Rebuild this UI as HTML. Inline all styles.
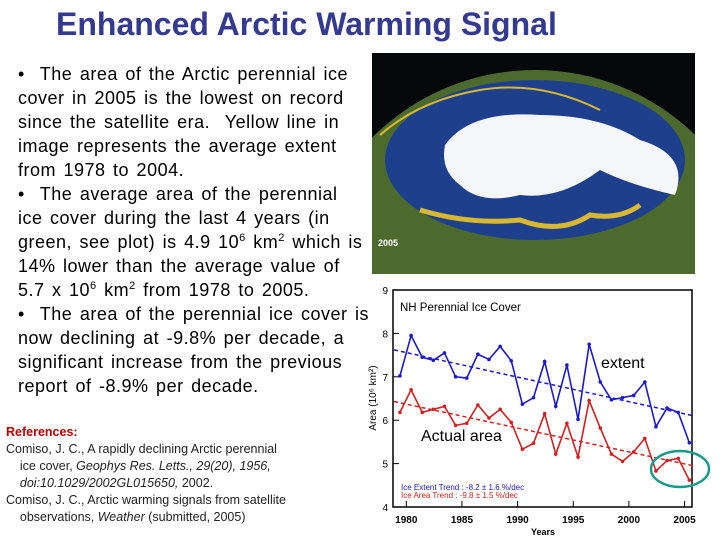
<!DOCTYPE html>
<html><head><meta charset="utf-8"><style>
body{margin:0;width:720px;height:540px;background:#fff;position:relative;overflow:hidden;font-family:"Liberation Sans",sans-serif}
#title{position:absolute;left:56px;top:6px;font-size:32px;font-weight:bold;color:#333a8f;white-space:nowrap;z-index:2}
#body{position:absolute;left:18px;top:62px;font-size:18px;letter-spacing:0.5px;word-spacing:2px;line-height:24px;color:#000;white-space:nowrap;z-index:2}
#body p{margin:0}
sup{font-size:11px;line-height:0}
#refs{position:absolute;left:6px;top:424px;font-size:12.5px;line-height:17px;color:#222;width:350px}
</style></head><body>
<div id="title">Enhanced Arctic Warming Signal</div>
<div id="body">
<p>• &nbsp;The area of the Arctic perennial ice<br>cover in 2005 is the lowest on record<br>since the satellite era.&nbsp; Yellow line in<br>image represents the average extent<br>from 1978 to 2004.</p>
<p>• &nbsp;The average area of the perennial<br>ice cover during the last 4 years (in<br>green, see plot) is 4.9 10<sup>6</sup> km<sup>2</sup> which is<br>14% lower than the average value of<br>5.7 x 10<sup>6</sup> km<sup>2</sup> from 1978 to 2005.</p>
<p>• &nbsp;The area of the perennial ice cover is<br>now declining at -9.8% per decade, a<br>significant increase from the previous<br>report of -8.9% per decade.</p>
</div>
<div id="refs">
<div style="color:#c00000;font-weight:bold">References:</div>
<div>Comiso, J. C., A rapidly declining Arctic perennial<br>&nbsp;&nbsp;&nbsp;&nbsp;ice cover, <i>Geophys Res. Letts., 29(20), 1956,<br>&nbsp;&nbsp;&nbsp;&nbsp;doi:10.1029/2002GL015650,</i> 2002.</div>
<div>Comiso, J. C., Arctic warming signals from satellite<br>&nbsp;&nbsp;&nbsp;&nbsp;observations, <i>Weather</i> (submitted, 2005)</div>
</div>
<svg width="720" height="540" style="position:absolute;left:0;top:0">
<defs><clipPath id="imgclip"><rect x="372" y="53" width="323" height="221"/></clipPath></defs>
<g clip-path="url(#imgclip)">
<rect x="372" y="53" width="323" height="221" fill="#050808"/>
<ellipse cx="535" cy="300" rx="230" ry="230" fill="#4d6a2e"/>
<ellipse cx="535" cy="160" rx="150" ry="80" fill="#1e3f8c"/>
<path d="M445 145 Q470 110 540 115 Q600 115 640 140 Q690 155 675 195 Q630 185 600 170 Q560 200 520 195 Q480 205 460 185 Q440 170 445 145Z" fill="#f4f6f8"/>
<path d="M420 210 Q470 225 520 220 Q560 235 590 215 Q620 220 640 205" stroke="#d8b830" stroke-width="5" fill="none"/>
<path d="M380 135 Q420 100 480 90 Q540 80 600 110" stroke="#d8b830" stroke-width="2" fill="none"/>
<text x="378" y="246" font-size="9" font-weight="bold" fill="#fff">2005</text>
</g>
<g id="chart">
<rect x="393" y="290" width="299" height="217" fill="#fff" stroke="#000" stroke-width="1.5"/>
</g>
</svg>
<script>
const years=[1979,1980,1981,1982,1983,1984,1985,1986,1987,1988,1989,1990,1991,1992,1993,1994,1995,1996,1997,1998,1999,2000,2001,2002,2003,2004,2005];
const extent=[7.02,7.95,7.45,7.38,7.55,7.0,6.97,7.52,7.4,7.7,7.37,6.37,6.52,7.35,6.32,7.27,6.02,7.75,6.88,6.47,6.52,6.57,6.88,5.85,6.28,6.18,5.48];
const area=[6.18,6.7,6.18,6.25,6.32,5.88,5.93,6.35,6.05,6.25,5.95,5.33,5.47,6.15,5.22,5.93,5.15,6.45,5.82,5.22,5.05,5.27,5.58,4.83,5.07,5.12,4.62];
const extentTrend=[7.62,6.1];
const areaTrend=[6.43,4.95];
const trendYears=[1978.9,2005.8];
const yTicks=[4,5,6,7,8,9];
const xTicks=[1980,1985,1990,1995,2000,2005];
const NS="http://www.w3.org/2000/svg";
const g=document.getElementById('chart');
const X=yr=>406.3+(yr-1980)*11.13;
const Xp=yr=>X(yr+0.43);
const Y=v=>507-(v-4)*43.4;
function mk(t,a,p){const e=document.createElementNS(NS,t);for(const k in a)e.setAttribute(k,a[k]);(p||g).appendChild(e);return e;}
yTicks.forEach(v=>{
 const l=mk('line',{x1:393,x2:399,y1:Y(v),y2:Y(v),stroke:'#000'});
 
 
 const t=mk('text',{x:388,y:Y(v)+4,'font-size':10,'text-anchor':'end'});t.textContent=v;
 
 
});
xTicks.forEach(v=>{
 const l=mk('line',{x1:X(v),x2:X(v),y1:507,y2:501,stroke:'#000'});
 
 
 const t=mk('text',{x:X(v),y:523,'font-size':10,'font-weight':'bold','text-anchor':'middle'});t.textContent=v;
 
 
});
let t=mk('text',{x:543,y:535,'font-size':9,'font-weight':'bold','text-anchor':'middle'});t.textContent='Years';


t=mk('text',{x:0,y:0,'font-size':10,'text-anchor':'middle',transform:'translate(376,398) rotate(-90)'});t.textContent='Area (10⁶ km²)';


t=mk('text',{x:400,y:311,'font-size':11.5});t.textContent='NH Perennial Ice Cover';


function series(vals,trend,col,name){
 const tl=mk('line',{x1:X(trendYears[0]),x2:X(trendYears[1]),y1:Y(trend[0]),y2:Y(trend[1]),stroke:col,'stroke-width':1.5,'stroke-dasharray':'4,3'});
 
 
 const pl=mk('polyline',{points:vals.map((v,i)=>Xp(years[i])+','+Y(v)).join(' '),fill:'none',stroke:col,'stroke-width':1.6});
 
 
 vals.forEach((v,i)=>{const c=mk('circle',{cx:Xp(years[i]),cy:Y(v),r:1.8,fill:col});
  
  });
}
series(extent,extentTrend,'#1a1ac8','extent');
series(area,areaTrend,'#d42020','area');
t=mk('text',{x:401,y:490,'font-size':8,fill:'#1a1ac8'});t.textContent='Ice Extent Trend : -8.2 ± 1.6  %/dec';


t=mk('text',{x:401,y:498,'font-size':8,fill:'#d42020'});t.textContent='Ice Area Trend   : -9.8 ± 1.5  %/dec';


t=mk('text',{x:601,y:368,'font-size':16});t.textContent='extent';


t=mk('text',{x:421,y:441,'font-size':16});t.textContent='Actual area';


const el=mk('ellipse',{cx:680,cy:469,rx:29,ry:18,fill:'none',stroke:'#1a9a8a','stroke-width':2.5});


</script>
</body></html>
